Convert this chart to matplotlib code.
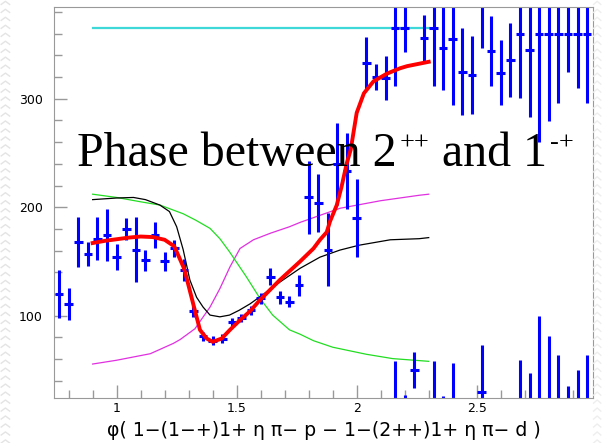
import matplotlib
matplotlib.use("Agg")
import matplotlib.pyplot as plt
import numpy as np

# phase points, one per 0.04 bin
bin_centres = [0.76 + 0.04 * i for i in range(56)]
phase = [120, 111, 168, 157, 171, 174, 154, 180, 161, 151, 174, 150, 162, 142,
         104, 81, 77, 79, 94, 98, 105, 116, 136, 117, 113, 128, 209, 204, 161,
         240, 233, 190, 333, 320, 319, 365, 365, 410, 356, 365, 347, 355, 325,
         322, 390, 344, 324, 336, 360, 345, 360, 360, 360, 360, 360, 360]
phase_err = [22, 15, 23, 11, 20, 24, 12, 10, 30, 10, 12, 9, 8, 10,
             5, 4, 4, 4, 4, 4, 4, 5, 8, 6, 5, 10, 34, 27, 34,
             38, 35, 36, 24, 12, 20, 53, 22, 17, 21, 53, 39, 61, 40,
             36, 43, 32, 30, 34, 59, 62, 100, 81, 64, 35, 50, 64]

# fit curves
red_x = [0.90, 0.95, 1.00, 1.05, 1.10, 1.15, 1.20, 1.24, 1.264, 1.28, 1.29, 1.32,
         1.347, 1.375, 1.40, 1.4375, 1.472, 1.514, 1.555, 1.597, 1.68, 1.764,
         1.82, 1.847, 1.875, 1.889, 1.917, 1.937, 1.958, 1.975, 2.00, 2.03,
         2.07, 2.125, 2.18, 2.21, 2.30]
red_y = [167, 169, 170.5, 172, 173, 172.5, 170, 164, 152, 144, 136, 110,
         87, 79, 76, 79, 87, 96, 104, 114.5, 133, 150,
         162, 170, 177, 187, 202, 219, 240, 253, 287, 305,
         316, 323, 328, 330, 334]

black_x = [0.90, 1.00, 1.07, 1.12, 1.18, 1.22, 1.25, 1.277, 1.305, 1.333, 1.36,
           1.389, 1.43, 1.47, 1.51, 1.556, 1.597, 1.68, 1.764, 1.847, 1.93,
           2.01, 2.14, 2.26, 2.30]
black_y = [207, 208.5, 209, 207, 202, 196, 182, 161, 133, 117, 108,
           100.6, 99, 100.6, 105, 111, 117.5, 131, 143.7, 154, 160.5,
           165, 170, 171, 172]

green_x = [0.90, 1.00, 1.10, 1.18, 1.277, 1.33, 1.389, 1.43, 1.47, 1.54, 1.597,
           1.65, 1.72, 1.764, 1.82, 1.90, 2.04, 2.15, 2.30]
green_y = [212, 209, 205, 202, 194, 188, 180.5, 171, 159, 136, 116,
           100.6, 87, 83, 77, 71, 64.5, 60.5, 58]

magenta_x = [0.90, 1.00, 1.14, 1.236, 1.264, 1.326, 1.389, 1.43, 1.472, 1.514,
             1.57, 1.64, 1.72, 1.764, 1.93, 2.10, 2.26, 2.30]
magenta_y = [55.5, 59, 65, 74.5, 78, 88, 108, 125, 145, 162,
             170, 176, 182, 186, 199, 206, 211, 212]

cyan_x = [0.90, 2.30]
cyan_y = [365, 365]

# title pieces: (text, is superscript)
title_parts = [("Phase between 2", False), ("++", True), (" and 1", False), ("-+", True)]


def draw_border(fig):
    # faint zig-zag strip of the slide background
    for yy in np.arange(0.0, 1.0, 0.018):
        fig.add_artist(plt.Line2D([0.002, 0.009, 0.016], [yy, yy + 0.007, yy],
                                  transform=fig.transFigure, color="#e4e4e4", lw=1))
        fig.add_artist(plt.Line2D([0.986, 0.992, 0.998], [yy, yy + 0.007, yy],
                                  transform=fig.transFigure, color="#eeeeee", lw=1))


def draw_title(fig):
    renderer = fig.canvas.get_renderer()
    W, H = fig.bbox.width, fig.bbox.height
    x = 77.0
    base = 443 - 166.5
    for txt, sup in title_parts:
        if sup:
            t = fig.text((x + 2) / W, (base + 17) / H, txt, family="Liberation Serif",
                         fontsize=19, va="baseline", ha="left")
        else:
            t = fig.text(x / W, base / H, txt, family="Liberation Serif",
                         fontsize=34.5, va="baseline", ha="left")
        x = t.get_window_extent(renderer).x1 + 1


def main():
    fig = plt.figure(figsize=(6.02, 4.43), dpi=100)
    ax = fig.add_axes([0.0897, 0.1023, 0.8948, 0.8819])

    ax.plot(cyan_x, cyan_y, color="#3fd8d8", lw=1.6)
    ax.plot(magenta_x, magenta_y, color="#e030e0", lw=0.9)
    ax.plot(green_x, green_y, color="#22dd22", lw=0.9)
    ax.plot(black_x, black_y, color="black", lw=0.9)

    x = np.array(bin_centres)
    y = np.array(phase)
    for shift in [0, -360]:
        ax.errorbar(x, y + shift, yerr=phase_err, xerr=0.018, fmt="none",
                    ecolor="#0000ff", elinewidth=2.2, capsize=0)

    ax.plot(red_x, red_y, color="#ff0000", lw=2.8)

    ax.set_xlim(0.739, 2.983)
    ax.set_ylim(24.5, 384.5)
    ax.set_xticks([1, 1.5, 2, 2.5])
    ax.set_xticklabels(["1", "1.5", "2", "2.5"])
    ax.set_xticks(np.arange(0.8, 2.99, 0.1), minor=True)
    ax.set_yticks([100, 200, 300])
    ax.set_yticks(np.arange(40, 384, 20), minor=True)
    ax.tick_params(which="both", direction="in", color="#999999", labelsize=9)
    ax.tick_params(which="major", length=9.5, width=1)
    ax.tick_params(which="minor", length=5.5, width=1)
    ax.tick_params(axis="y", pad=8)
    ax.tick_params(axis="x", pad=3)
    for s in ax.spines.values():
        s.set_color("#999999")

    fig.text(0.538, 0.028, "φ( 1−(1−+)1+ η π− p − 1−(2++)1+ η π− d )",
             ha="center", va="center", fontsize=13.6)

    draw_title(fig)
    draw_border(fig)
    fig.savefig("out.png", dpi=100)


if __name__ == '__main__':
    main()
